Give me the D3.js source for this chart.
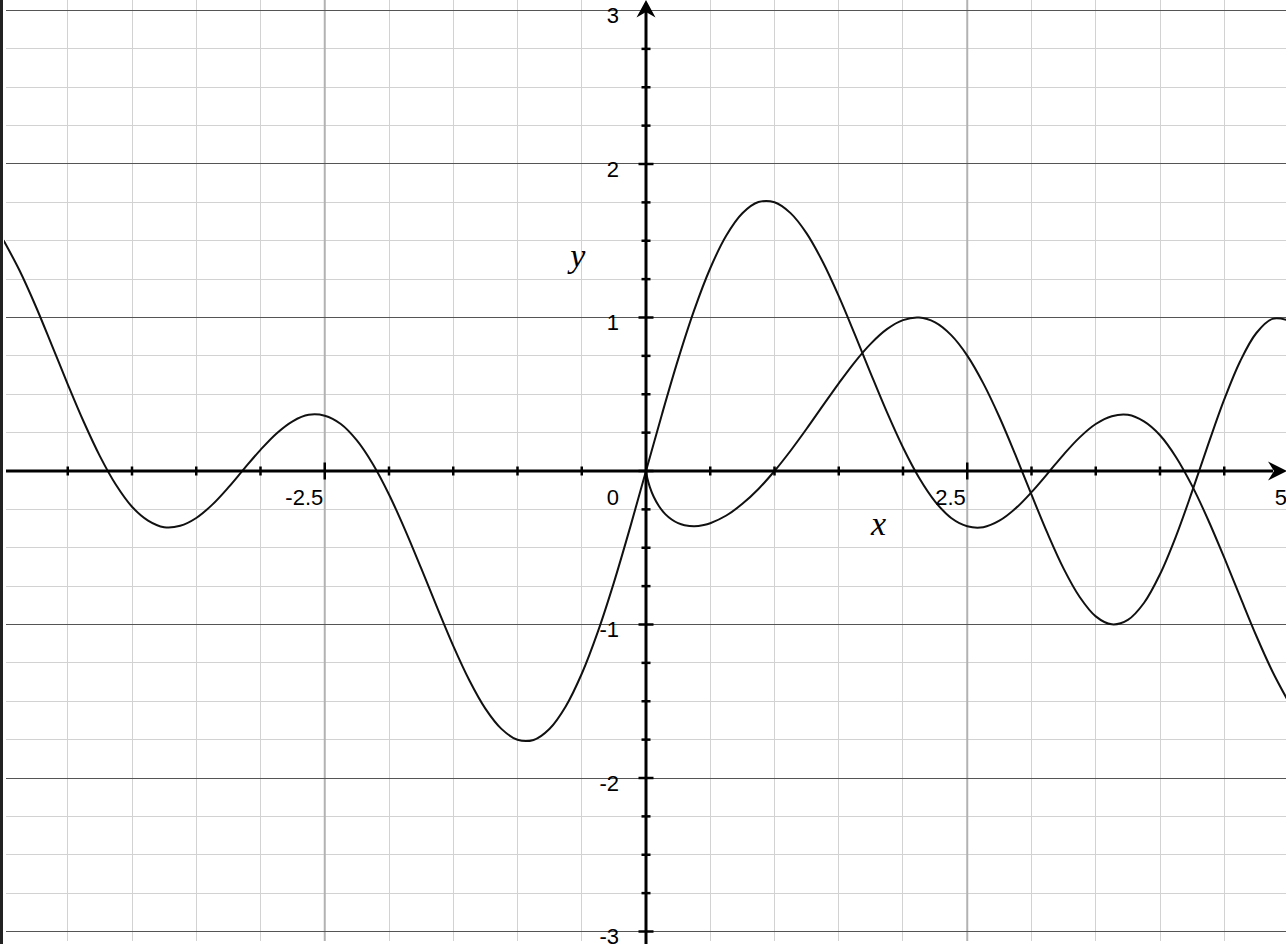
<!DOCTYPE html>
<html><head><meta charset="utf-8">
<script src="https://cdn.jsdelivr.net/npm/d3@7"></script>
<style>html,body{margin:0;padding:0;background:#fff;overflow:hidden}svg{display:block}</style>
</head><body><svg id="chart" width="1286" height="944"></svg>
<script>
// ---- data ----
const xDomain = [-5, 5];
const yDomain = [-3, 3];
const xTickLabelValues = [-2.5, 2.5, 5];
const xTickLabels = ["-2.5", "2.5", "5"];
const yTickLabelValues = [3, 2, 1, -1, -2, -3];
const yTickLabels = ["3", "2", "1", "-1", "-2", "-3"];
const originLabel = "0";
const xAxisTitle = "x";
const yAxisTitle = "y";
const xTitlePos = [1.81, -0.42];
const yTitlePos = [-0.53, 1.33];

// curve A (odd curve through origin, whole range)
const curveAX = [-5, -4.875, -4.75, -4.625, -4.5, -4.375, -4.25, -4.125, -4, -3.875, -3.75, -3.625, -3.5, -3.375, -3.25, -3.125,
  -3, -2.875, -2.75, -2.625, -2.5, -2.375, -2.25, -2.125, -2, -1.875, -1.75, -1.625, -1.5, -1.375, -1.25, -1.125,
  -1, -0.875, -0.75, -0.625, -0.5, -0.375, -0.25, -0.125,
  0, 0.125, 0.25, 0.375, 0.5, 0.625, 0.75, 0.875, 1, 1.125, 1.25, 1.375, 1.5, 1.625, 1.75, 1.875,
  2, 2.125, 2.25, 2.375, 2.5, 2.625, 2.75, 2.875, 3, 3.125, 3.25, 3.375, 3.5, 3.625, 3.75, 3.875,
  4, 4.125, 4.25, 4.375, 4.5, 4.625, 4.75, 4.875, 5];
const curveAY = [1.503, 1.306, 1.075, 0.822, 0.565, 0.319, 0.097, -0.090, -0.233, -0.323, -0.366, -0.357, -0.306, -0.219, -0.107, 0.017,
  0.138, 0.245, 0.324, 0.366, 0.360, 0.306, 0.199, 0.044, -0.153, -0.383, -0.633, -0.890, -1.139, -1.363, -1.548, -1.680,
  -1.751, -1.752, -1.679, -1.534, -1.321, -1.048, -0.727, -0.372,
  0, 0.372, 0.727, 1.048, 1.321, 1.534, 1.679, 1.752, 1.751, 1.680, 1.548, 1.363, 1.139, 0.890, 0.633, 0.383,
  0.153, -0.044, -0.199, -0.306, -0.360, -0.366, -0.324, -0.245, -0.138, -0.017, 0.107, 0.219, 0.306, 0.357, 0.366, 0.323,
  0.233, 0.090, -0.097, -0.319, -0.565, -0.822, -1.075, -1.306, -1.503];

// curve B (x > 0 only)
const curveBX = [0, 0.01, 0.03, 0.06, 0.1, 0.15, 0.2, 0.25, 0.3, 0.375, 0.45, 0.5, 0.625, 0.75, 0.875,
  1, 1.125, 1.25, 1.375, 1.5, 1.625, 1.75, 1.875, 2, 2.125, 2.25, 2.375, 2.5, 2.625, 2.75, 2.875,
  3, 3.125, 3.25, 3.375, 3.5, 3.625, 3.75, 3.875, 4, 4.125, 4.25, 4.375, 4.5, 4.625, 4.75, 4.875, 5];
const curveBY = [0, -0.046, -0.105, -0.168, -0.228, -0.281, -0.316, -0.340, -0.353, -0.360, -0.352, -0.340, -0.290, -0.214, -0.117,
  0, 0.132, 0.275, 0.424, 0.571, 0.710, 0.830, 0.924, 0.983, 0.9995, 0.968, 0.885, 0.752, 0.571, 0.352, 0.105,
  -0.154, -0.407, -0.636, -0.821, -0.947, -0.999, -0.970, -0.860, -0.673, -0.424, -0.133, 0.173, 0.466, 0.717, 0.899, 0.991, 0.981];

// ---- drawing ----
const W = 1286, H = 944;
const svg = d3.select("#chart");
const x = d3.scaleLinear().domain(xDomain).range([3.5, 1288.5]);
const y = d3.scaleLinear().domain(yDomain).range([931.5, 10.5]);
const x0 = x(0), y0 = y(0);
const crisp = v => Math.round(v - 0.5) + 0.5;
const gridLeft = 6, gridBottom = 941;

const isMult = (v, m) => Math.abs(v / m - Math.round(v / m)) < 1e-6;

const grid = svg.append("g");
// minor vertical
const xMinor = d3.range(-5, 5.001, 0.5).filter(v => !isMult(v, 2.5));
grid.selectAll("line.vx").data(xMinor).join("line")
  .attr("x1", d => crisp(x(d))).attr("x2", d => crisp(x(d)))
  .attr("y1", 0).attr("y2", gridBottom)
  .attr("stroke", "#d2d2d2").attr("stroke-width", 1);
// minor horizontal
const yMinor = d3.range(-3, 3.001, 0.25).filter(v => !isMult(v, 1));
grid.selectAll("line.hy").data(yMinor).join("line")
  .attr("x1", gridLeft).attr("x2", W)
  .attr("y1", d => crisp(y(d))).attr("y2", d => crisp(y(d)))
  .attr("stroke", "#d2d2d2").attr("stroke-width", 1);
// major vertical
const xMajor = [-2.5, 2.5];
grid.selectAll("line.VX").data(xMajor).join("line")
  .attr("x1", d => x(d)).attr("x2", d => x(d))
  .attr("y1", 0).attr("y2", gridBottom)
  .attr("stroke", "#b2b2b2").attr("stroke-width", 2);
// major horizontal
const yMajor = [-3, -2, -1, 1, 2, 3];
grid.selectAll("line.HY").data(yMajor).join("line")
  .attr("x1", gridLeft).attr("x2", W)
  .attr("y1", d => crisp(y(d))).attr("y2", d => crisp(y(d)))
  .attr("stroke", "#555").attr("stroke-width", 1);

// curves
svg.append("clipPath").attr("id", "clip").append("rect")
  .attr("x", 4).attr("y", 0).attr("width", W - 4).attr("height", H);
const line = d3.line().x(d => x(d[0])).y(d => y(d[1])).curve(d3.curveCatmullRom.alpha(0.5));
const curves = svg.append("g").attr("clip-path", "url(#clip)");
curves.append("path").datum(d3.zip(curveAX, curveAY)).attr("d", line)
  .attr("fill", "none").attr("stroke", "#111").attr("stroke-width", 2);
curves.append("path").datum(d3.zip(curveBX, curveBY)).attr("d", line)
  .attr("fill", "none").attr("stroke", "#111").attr("stroke-width", 2);

// axes
const ax = svg.append("g");
ax.append("line").attr("x1", gridLeft).attr("x2", W - 13).attr("y1", y0).attr("y2", y0)
  .attr("stroke", "#000").attr("stroke-width", 3);
ax.append("line").attr("x1", x0).attr("x2", x0).attr("y1", H).attr("y2", 12)
  .attr("stroke", "#000").attr("stroke-width", 3);
// arrowheads
ax.append("path").attr("d", `M${x0},0 L${x0 + 9.5},17.5 L${x0},12 L${x0 - 9.5},17.5 Z`).attr("fill", "#000");
ax.append("path").attr("d", `M${W + 1},${y0} L${W - 18},${y0 - 9.5} L${W - 12},${y0} L${W - 18},${y0 + 9.5} Z`).attr("fill", "#000");

// ticks
const xTicks = d3.range(-4.5, 4.501, 0.5).filter(v => Math.abs(v) > 1e-6);
ax.selectAll("line.xt").data(xTicks).join("line")
  .attr("x1", d => x(d)).attr("x2", d => x(d))
  .attr("y1", d => y0 - (isMult(d, 2.5) ? 8.5 : 4.5))
  .attr("y2", d => y0 + (isMult(d, 2.5) ? 8.5 : 4.5))
  .attr("stroke", "#000").attr("stroke-width", 2.5);
const yTicks = d3.range(-3, 2.751, 0.25);
ax.selectAll("line.yt").data(yTicks).join("line")
  .attr("y1", d => y(d)).attr("y2", d => y(d))
  .attr("x1", d => x0 - (isMult(d, 1) ? 7.5 : 4.5))
  .attr("x2", d => x0 + (isMult(d, 1) ? 7.5 : 4.5))
  .attr("stroke", "#000").attr("stroke-width", 2.5);

// labels
const lab = svg.append("g").attr("font-family", "'Liberation Sans', Arial, Helvetica, sans-serif")
  .attr("font-size", 22).attr("fill", "#000");
lab.selectAll("text.xl").data(xTickLabelValues).join("text")
  .attr("x", d => x(d) - 1.5).attr("y", y0 + 34).attr("text-anchor", "end")
  .text((d, i) => xTickLabels[i]);
lab.selectAll("text.yl").data(yTickLabelValues).join("text")
  .attr("x", x0 - 27).attr("y", d => y(d) + 12.5).attr("text-anchor", "end")
  .text((d, i) => yTickLabels[i]);
lab.append("text").attr("x", x0 - 27).attr("y", y0 + 34).attr("text-anchor", "end").text(originLabel);

const titles = svg.append("g").attr("font-family", "'Liberation Serif', 'Times New Roman', serif")
  .attr("font-style", "italic").attr("font-size", 34).attr("fill", "#000");
titles.append("text").attr("x", x(xTitlePos[0])).attr("y", y(xTitlePos[1])).attr("text-anchor", "middle").text(xAxisTitle);
titles.append("text").attr("x", x(yTitlePos[0])).attr("y", y(yTitlePos[1])).attr("text-anchor", "middle").text(yAxisTitle);

// left window border
svg.append("rect").attr("x", 0).attr("y", 0).attr("width", 3).attr("height", H).attr("fill", "#222");
</script></body></html>
